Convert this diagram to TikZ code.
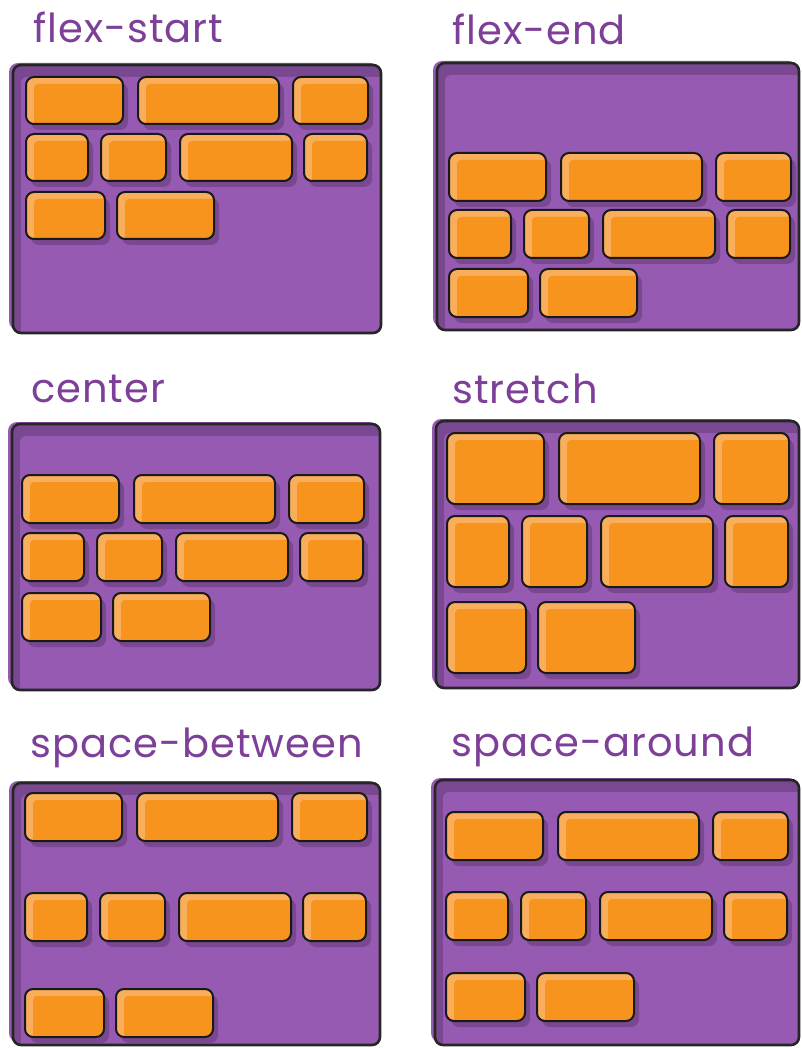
\documentclass[tikz,border=0pt]{standalone}
\usepackage{fontspec}
\usepackage{tikz}
\usetikzlibrary{shadows}
\newfontfamily\labelfont[LetterSpace=2.5]{Poppins}
\definecolor{boxfill}{HTML}{965AB3}
\definecolor{boxdark}{HTML}{7A4890}
\definecolor{itemfill}{HTML}{F7941E}
\definecolor{itemlight}{HTML}{F9AE5B}
\definecolor{labelcol}{HTML}{7D3F98}

\begin{document}
\begin{tikzpicture}[x=1pt, y=-1pt,
  container/.style={draw=black!85, line width=2.6pt, fill=boxdark, rounded corners=8pt,
    anchor=north west, inner sep=0pt, outer sep=0pt,
    path picture={\fill[boxfill, rounded corners=6pt]
      ([xshift=8pt,yshift=-12pt]path picture bounding box.north west)
      rectangle ([xshift=6pt,yshift=-6pt]path picture bounding box.south east);}},
  smear/.style={fill=boxfill, rounded corners=9pt},
  flexitem/.style={draw=black!90, line width=2pt, fill=itemlight, rounded corners=8pt,
    anchor=north west, inner sep=0pt, outer sep=0pt,
    drop shadow={shadow xshift=5pt, shadow yshift=-6pt, fill=boxdark, opacity=1},
    path picture={\fill[itemfill, rounded corners=4pt]
      ([xshift=8pt,yshift=-7pt]path picture bounding box.north west)
      rectangle ([xshift=4pt,yshift=-4pt]path picture bounding box.south east);}},
  caption/.style={anchor=base west, inner sep=0pt, text=labelcol,
    font=\labelfont\fontsize{40}{40}\selectfont}]
  \useasboundingbox (0,0) rectangle (802,1048);
  % panel: name / box l,t,r,b / item left / row tops / row height / label / label x,y
  \foreach \p/\bl/\bt/\br/\bb/\il/\ra/\rb/\rc/\rh/\txt/\lx/\ly in {
      fs/13/65/381/333/26/77/134/192/47/flex-start/33/43,
      fe/437/63/799/330/449/153/210/269/48/flex-end/452/45,
      ce/12/424/380/690/22/475/533/593/48/center/31/402,
      st/436/421/799/688/447/433/516/602/71/stretch/452/403,
      sb/13/783/380/1045/25/793/893/989/48/space-between/30/757,
      sa/435/780/799/1045/446/812/892/973/48/space-around/451/756} {
    \node[caption] (\p-label) at (\lx,\ly) {\txt};
    \fill[smear] (\bl-4,\bt-2) rectangle (\br-2,\bb-3);
    \node[container, minimum width={(\br-\bl)*1pt}, minimum height={(\bb-\bt)*1pt}]
      (\p-box) at (\bl,\bt) {};
    % three rows of items
    \foreach \i/\dx/\w in {1/0/97, 2/112/141, 3/267/75}
      \node[flexitem, minimum width=\w pt, minimum height=\rh pt] (\p-a\i) at (\il+\dx,\ra) {};
    \foreach \i/\dx/\w in {1/0/62, 2/75/65, 3/154/112, 4/278/63}
      \node[flexitem, minimum width=\w pt, minimum height=\rh pt] (\p-b\i) at (\il+\dx,\rb) {};
    \foreach \i/\dx/\w in {1/0/79, 2/91/97}
      \node[flexitem, minimum width=\w pt, minimum height=\rh pt] (\p-c\i) at (\il+\dx,\rc) {};
  }
\end{tikzpicture}
\end{document}
